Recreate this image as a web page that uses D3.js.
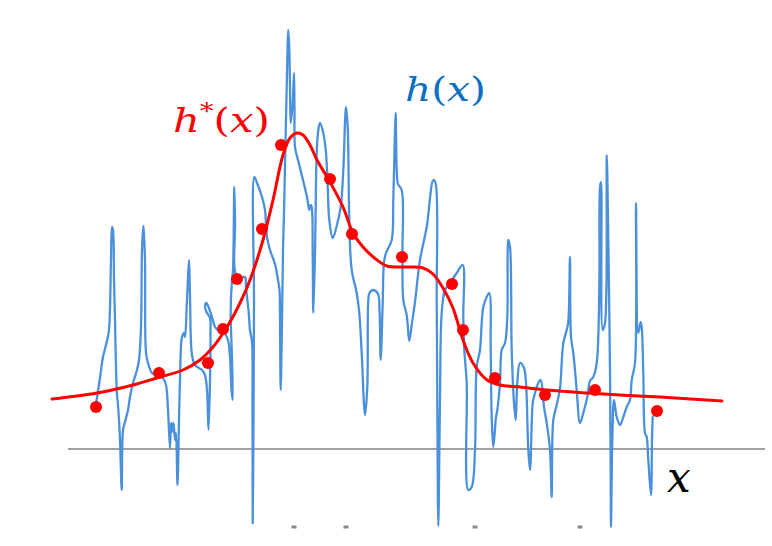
<!DOCTYPE html>
<html><head><meta charset="utf-8">
<script src="https://cdn.jsdelivr.net/npm/d3@7"></script>
<style>html,body{margin:0;padding:0;background:#fff;} svg{display:block;}</style>
</head><body>
<svg id="chart" width="772" height="546"></svg>
<script>
// noisy observed function h(x): [x, value]
const hSamples = [[28,45],[32,71],[35,92],[39,108],[41,119],[43,189],[44,222],[45,219],[46,169],[47,129],[48,82],[49,54],[50,44],[52,9],[53.7,-41],[55,19],[57,27],[60,39],[62,52],[65,66],[69,79],[71,89],[73,122],[74,199],[75.3,223],[76,214],[77,189],[78,96],[80,86],[84,76],[89,74],[95,71],[98,64],[100,39],[102,1],[103,26],[104,17],[105.5,26],[107,9],[108,16],[109.5,-36],[111,29],[112,69],[114,112],[116,116],[117,112],[119,149],[121,189],[122,153],[124,94],[127,84],[134,79],[137,74],[139,59],[140.5,19],[142,69],[142.5,116],[142,131],[138.5,137],[137,143],[138.5,146],[140.5,142],[144,132],[147,122],[152,117],[157,115],[160,109],[162,92],[163.5,59],[164.7,49],[164,89],[162.7,139],[164,169],[165,179],[166.3,262],[167,224],[166.5,181],[169,172],[172,171],[177,172],[178,162],[179,152],[180.5,139],[182,119],[184,107],[184.5,49],[184.7,-74],[185.5,29],[186,149],[186.3,272],[189,266],[194,252],[197,239],[198,225],[199,212],[202,199],[207,185],[210,169],[211.5,159],[212,129],[212.7,59],[214,129],[215,199],[216,236],[218.7,362],[220.3,419],[221.3,399],[222,362],[222.7,326],[224.7,346],[226,376],[226.5,339],[227,302],[230,289],[235,269],[239,252],[241.3,239],[242.7,244],[243.7,242],[244.7,196],[245.3,136],[247,196],[248.7,296],[250.3,319],[252,326],[255.3,316],[258,296],[259.7,262],[261.3,229],[264.7,211],[268.7,223],[272.7,242],[275.3,279],[278,342],[279.7,322],[281.3,229],[283.7,179],[288.7,156],[291.3,136],[293.7,96],[297,34],[299.3,62],[300.3,149],[301.5,156],[305.3,159],[310,155],[311.5,139],[312.7,89],[314.7,146],[316,187],[318,196],[323.7,209],[325.3,249],[327,319],[327.7,336],[328.7,279],[330,265],[333.7,259],[334.5,196],[335.3,149],[338.7,134],[341.3,108],[343.7,124],[347,147],[352,189],[358.7,222],[365.3,269],[367.5,266],[368.7,149],[369.3,49],[370.3,-77],[372,49],[373.7,136],[377,159],[382,166],[388.7,176],[394.7,184],[395.3,132],[396.3,99],[398.7,66],[400.3,-41],[403.7,-38],[407,-1],[408.7,82],[412,99],[413.7,126],[415.3,142],[418.7,152],[421.3,156],[422.7,99],[423.7,32],[425.3,2],[428,32],[429.3,39],[432,66],[433.7,99],[437,106],[439.3,132],[440.3,209],[442,202],[443.7,99],[446,46],[447.7,29],[449.3,66],[452,86],[456,81],[458,66],[460.3,-1],[462,-21],[464.7,46],[466,52],[470.3,66],[472.7,69],[476,42],[478.7,26],[482,-1],[483.7,-48],[485.3,29],[488.7,44],[492,61],[495.3,106],[498.7,119],[500.3,127],[502,192],[503,112],[505.3,96],[508.7,59],[512,26],[515.3,36],[519.3,52],[522,68],[525.3,72],[528.7,86],[531.3,159],[532,262],[533,267],[534.7,119],[537,126],[538.7,294],[540.3,209],[542,76],[542.7,-24],[543,-78],[544.3,9],[546,49],[548.7,32],[552,24],[555.3,32],[558.7,42],[562,49],[563.7,69],[567,86],[568,246],[570.3,116],[572.7,127],[573.7,122],[575.3,76],[577,16],[578.7,12],[580.3,-11],[583,-46],[584,9],[584.7,32]];

// smooth fitted function h*(x)
const fitX = [-16,29,65,92,115,132,145,159,172,182,195,205,215,222,229,235,242,249,262,275,285,295,309,319,332,342,355,365,375,385,395,405,419,432,452,479,519,552,592,654];
const fitY = [50,56,64,72,79,89,102,122,146,169,209,249,294,311,316,314,304,289,267,242,216,202,189,183,182,182,181,175,161,141,109,86,69,64,62,59,56,54,52,48];

// sample points
const sampleX = [28,91,140,155,169,194,213,262,284,334,384,395,427,477,527,589];
const sampleY = [42,76,86,120,170,220,304,270,215,192,165,119,71,54,59,38];

// small marks below the axis
const markX = [226,278,407,512];
const markY = -78;

const axisExtent = [0, 697];

const svg = d3.select('#chart');
svg.append('rect').attr('width',772).attr('height',546).attr('fill','#fff');

const x = d3.scaleLinear().domain([0,700]).range([68,768]);
const y = d3.scaleLinear().domain([0,420]).range([449,29]);

// axis line
svg.append('line')
  .attr('x1', x(axisExtent[0])).attr('x2', x(axisExtent[1]))
  .attr('y1', y(0)).attr('y2', y(0))
  .attr('stroke','#a0a0a0').attr('stroke-width',2);

// marks
svg.selectAll('rect.mark').data(markX).enter().append('rect')
  .attr('class','mark')
  .attr('x', d => x(d) - 2.5).attr('y', y(markY) - 1.5)
  .attr('width',5).attr('height',3).attr('fill','#8a8a8a');

// blue noisy line
const blueLine = d3.line().x(d => x(d[0])).y(d => y(d[1])).curve(d3.curveCatmullRom.alpha(0.5));
svg.append('path').datum(hSamples)
  .attr('d', blueLine)
  .attr('fill','none').attr('stroke','#4a90dc').attr('stroke-width',2.3)
  .attr('stroke-linejoin','round').attr('stroke-linecap','round');

// red smooth curve
const fitData = fitX.map((d,i) => [d, fitY[i]]);
const redLine = d3.line().x(d => x(d[0])).y(d => y(d[1])).curve(d3.curveCatmullRom.alpha(0.5));
svg.append('path').datum(fitData)
  .attr('d', redLine)
  .attr('fill','none').attr('stroke','#ff0000').attr('stroke-width',3)
  .attr('stroke-linecap','round');

// red dots
svg.selectAll('circle.pt').data(sampleX.map((d,i)=>[d,sampleY[i]])).enter().append('circle')
  .attr('class','pt')
  .attr('cx', d => x(d[0])).attr('cy', d => y(d[1])).attr('r',6)
  .attr('fill','#ff0000');

// labels
const serif = "'DejaVu Serif', 'Liberation Serif', serif";
const l1 = svg.append('text').attr('x',173).attr('y',132)
  .attr('fill','#ff0000').attr('font-family',serif).attr('font-size',34)
  .attr('textLength',97).attr('lengthAdjust','spacingAndGlyphs');
l1.append('tspan').attr('font-style','italic').text('h');
l1.append('tspan').attr('font-size',22).attr('dy',-13).text('*');
l1.append('tspan').attr('dy',13).text('(');
l1.append('tspan').attr('font-style','italic').text('x');
l1.append('tspan').text(')');

const l2 = svg.append('text').attr('x',405).attr('y',101)
  .attr('fill','#0b70c2').attr('font-family',serif).attr('font-size',34)
  .attr('textLength',81).attr('lengthAdjust','spacingAndGlyphs');
l2.append('tspan').attr('font-style','italic').text('h');
l2.append('tspan').text('(');
l2.append('tspan').attr('font-style','italic').text('x');
l2.append('tspan').text(')');

svg.append('text').attr('x',667).attr('y',492)
  .attr('fill','#000').attr('font-family',"'DejaVu Serif', serif")
  .attr('font-style','italic').attr('font-size',42).text('x');
</script>
</body></html>
